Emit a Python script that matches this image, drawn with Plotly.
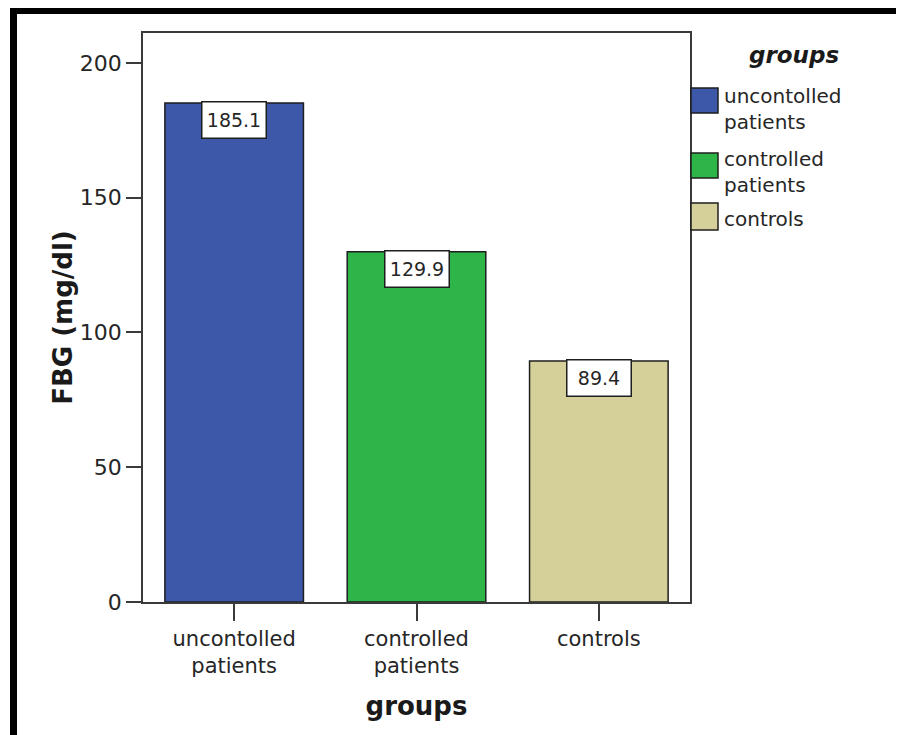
import plotly.graph_objects as go

# ---- data ----
categories = ["uncontolled<br>patients", "controlled<br>patients", "controls"]
legend_labels = ["uncontolled<br>patients", "controlled<br>patients", "controls"]
fbg_means = [185.1, 129.9, 89.4]
bar_colors = ["#3D57A9", "#2EB548", "#D5D09A"]
y_ticks = [0, 50, 100, 150, 200]

# ---- layout geometry (screen pixels; page body has an 8px margin) ----
OFF = 8
W, H = 904 - OFF, 735 - OFF
L, R, T, B = 143, 690, 33, 602   # plot area in screen pixels


def px_x(px):
    return (px - L) / (R - L)


def px_y(py):
    return (B - py) / (B - T)


FONT = "DejaVu Sans"
TXT = "#262626"

fig = go.Figure()
for cat, val, col in zip(categories, fbg_means, bar_colors):
    fig.add_trace(go.Bar(
        x=[cat], y=[val], width=0.76,
        marker=dict(color=col, line=dict(color="#1e1e1e", width=1.5)),
        showlegend=False, hoverinfo="x+y",
    ))
    fig.add_annotation(
        x=cat, y=val, xref="x", yref="y", text=f"{val:.1f}",
        showarrow=False, yanchor="top", yshift=2,
        font=dict(family=FONT, size=19, color=TXT),
        bgcolor="white", bordercolor="#1e1e1e", borderwidth=1.5,
        borderpad=1, width=61, height=33,
    )

y_top = 211.1

fig.update_layout(
    width=W, height=H,
    margin=dict(l=L - OFF, r=W - (R - OFF), t=T - OFF, b=H - (B - OFF), autoexpand=False),
    paper_bgcolor="white", plot_bgcolor="white",
    barmode="overlay",
    font=dict(family=FONT, color=TXT),
    showlegend=False,
)
fig.update_xaxes(
    type="category", categoryorder="array", categoryarray=categories,
    range=[-0.5, 2.5],
    showline=True, linecolor="#3a3a3a", linewidth=1.5, mirror=True,
    ticks="outside", ticklen=17, tickcolor="#3a3a3a", tickwidth=1.5,
    tickfont=dict(family=FONT, size=21, color=TXT),
    showgrid=False, zeroline=False,
    title=dict(text="<b>groups</b>", font=dict(family=FONT, size=26, color="#1a1a1a"), standoff=20),
)
fig.update_yaxes(
    range=[0, y_top], tickvals=y_ticks,
    showline=True, linecolor="#3a3a3a", linewidth=1.5, mirror=True,
    ticks="outside", ticklen=15, tickcolor="#3a3a3a", tickwidth=1.5,
    tickfont=dict(family=FONT, size=22, color=TXT),
    showgrid=False, zeroline=False,
    title=dict(text="<b>FBG (mg/dl)</b>", font=dict(family=FONT, size=26, color="#1a1a1a"), standoff=0),
)

# ---- legend drawn as swatches + text ----
fig.add_annotation(
    x=px_x(794), y=px_y(55), xref="paper", yref="paper",
    text="<b><i>groups</i></b>", showarrow=False, xanchor="center", yanchor="middle",
    font=dict(family=FONT, size=23, color="#1a1a1a"),
)
sw_tops = [88, 153, 203]
sw_heights = [25, 25, 27]
text_mid = [109, 172, 219]
for top, hgt, mid, label, col in zip(sw_tops, sw_heights, text_mid, legend_labels, bar_colors):
    fig.add_shape(
        type="rect", xref="paper", yref="paper",
        x0=px_x(691), x1=px_x(718), y0=px_y(top), y1=px_y(top + hgt),
        fillcolor=col, line=dict(color="#1e1e1e", width=1.5),
    )
    fig.add_annotation(
        x=px_x(722), y=px_y(mid), xref="paper", yref="paper",
        text=label, showarrow=False, xanchor="left", yanchor="middle", align="left",
        font=dict(family=FONT, size=20, color=TXT),
    )

# ---- outer black frame (top and left) ----
fig.add_shape(type="rect", xref="paper", yref="paper",
              x0=px_x(10), x1=px_x(910), y0=px_y(14), y1=px_y(8),
              fillcolor="black", line=dict(width=0), layer="above")
fig.add_shape(type="rect", xref="paper", yref="paper",
              x0=px_x(10), x1=px_x(17), y0=px_y(740), y1=px_y(8),
              fillcolor="black", line=dict(width=0), layer="above")

fig.write_html("out.html")
